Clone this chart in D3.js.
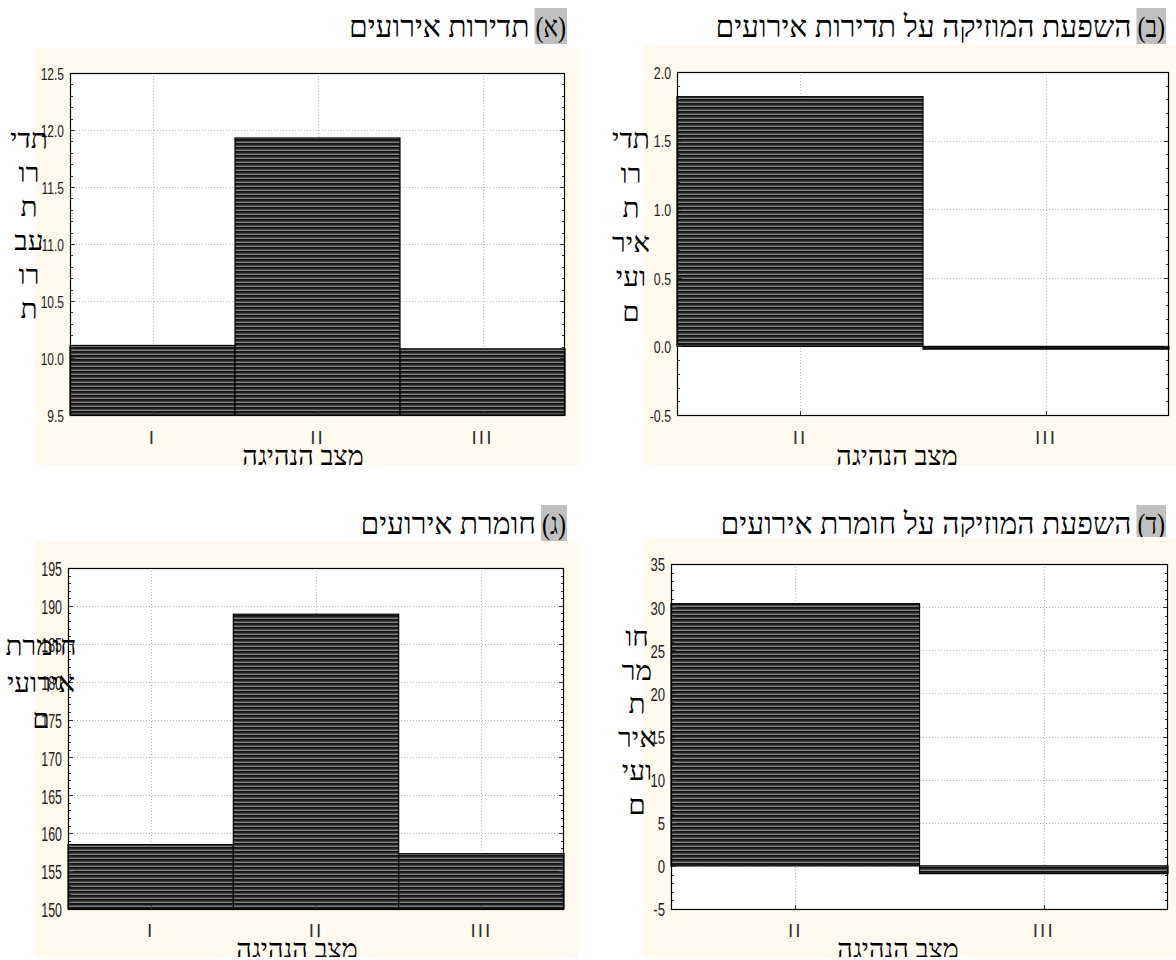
<!DOCTYPE html>
<html><head><meta charset="utf-8">
<script src="https://cdn.jsdelivr.net/npm/d3@7"></script>
<style>body{margin:0;background:#fff}</style>
</head><body><svg id="c" width="1176" height="960" xmlns="http://www.w3.org/2000/svg"></svg>
<script>
// ---- data ----
const catsA = ["I", "II", "III"];
const valsA = [10.11, 11.93, 10.08];
const catsB = ["II", "III"];
const valsB = [1.82, -0.02];
const catsC = ["I", "II", "III"];
const valsC = [158.5, 188.9, 157.3];
const catsD = ["II", "III"];
const valsD = [30.4, -0.9];
const domainA = [9.5, 12.5], domainB = [-0.5, 2.0], domainC = [150, 195], domainD = [-5, 35];
const stepA = 0.5, stepB = 0.5, stepC = 5, stepD = 5;
const letters = ["א", "ב", "ג", "ד"];
const titles = ["תדירות אירועים", "השפעת המוזיקה על תדירות אירועים", "חומרת אירועים", "השפעת המוזיקה על חומרת אירועים"];
const yLinesA = ["תדי", "רו", "ת", "עב", "רו", "ת"];
const yLinesB = ["תדי", "רו", "ת", "איר", "ועי", "ם"];
const yLinesC = ["חומרת", "אירועי", "ם"];
const yLinesD = ["חו", "מר", "ת", "איר", "ועי", "ם"];
const xTitle = "מצב הנהיגה";

// ---- layout ----
const svg = d3.select("#c");
const defs = svg.append("defs");
const pat = defs.append("pattern").attr("id", "hatch").attr("patternUnits", "userSpaceOnUse")
  .attr("width", 8).attr("height", 4);
[["#1c1c1c",0],["#4a4a4a",1],["#808080",2],["#141414",3]].forEach(([c,y]) =>
  pat.append("rect").attr("x",0).attr("y",y).attr("width",8).attr("height",1).attr("fill",c));

const panels = [
  {cats: catsA, vals: valsA, dom: domainA, step: stepA, fmt: d3.format(".1f"), base: domainA[0],
   bg: [35, 48, 578, 465], plot: [70, 73, 565, 415], title: 0, titleRight: 567, titleY: 26,
   yl: yLinesA, ylX: 29, ylY: 140, ylStep: 34, xtY: 437, xtitleX: 303, xtitleY: 457, tf: 16, tc: 0.75},
  {cats: catsB, vals: valsB, dom: domainB, step: stepB, fmt: d3.format(".1f"), base: 0,
   bg: [643, 45, 1176, 465], plot: [677, 72, 1169, 415], title: 1, titleRight: 1166, titleY: 26,
   yl: yLinesB, ylX: 631, ylY: 140, ylStep: 34.5, xtY: 437, xtitleX: 897, xtitleY: 457, tf: 16, tc: 0.77},
  {cats: catsC, vals: valsC, dom: domainC, step: stepC, fmt: d3.format("d"), base: domainC[0],
   bg: [35, 541, 578, 957], plot: [68, 568, 564, 909], title: 2, titleRight: 567, titleY: 523,
   yl: yLinesC, ylX: 41, ylY: 647, ylStep: 36.5, xtY: 930, xtitleX: 297, xtitleY: 950, tf: 20, tc: 0.62},
  {cats: catsD, vals: valsD, dom: domainD, step: stepD, fmt: d3.format("d"), base: 0,
   bg: [643, 537, 1176, 957], plot: [671, 564, 1168, 909], title: 3, titleRight: 1166, titleY: 523,
   yl: yLinesD, ylX: 637, ylY: 638, ylStep: 33.5, xtY: 930, xtitleX: 898, xtitleY: 950, tf: 18, tc: 0.73}
];

const serif = "'Liberation Serif','Times New Roman',serif";
const narrow = "'Liberation Sans Narrow','Liberation Sans',Arial,sans-serif";
const hy = s => s.replace("\u2212", "-");

panels.forEach((p, i) => {
  const [bx0, by0, bx1, by1] = p.bg;
  const [x0, y0, x1, y1] = p.plot;
  defs.append("clipPath").attr("id", "clip" + i).append("rect")
    .attr("x", bx0).attr("y", by0).attr("width", bx1 - bx0).attr("height", by1 - by0);

  // title: grey box with "(letter)" drawn as three pieces, then RTL title text
  const tg = svg.append("g");
  const box = tg.append("rect").attr("fill", "#c0c0c0");
  const pieces = [")", letters[p.title], "("];  // right to left
  let cur = p.titleRight - 1;
  pieces.forEach(s => {
    const t = tg.append("text").attr("y", p.titleY + 11).attr("font-family", serif)
      .attr("font-size", 30).attr("text-anchor", "start").text(s);
    const w = t.node().getComputedTextLength() * 0.8;
    t.attr("textLength", w).attr("lengthAdjust", "spacingAndGlyphs");
    cur -= w;
    t.attr("x", cur);
  });
  const boxL = cur - 1;
  box.attr("x", boxL).attr("y", p.titleY - 18).attr("width", p.titleRight - boxL).attr("height", 36);
  tg.append("text").attr("x", boxL - 5).attr("y", p.titleY + 11)
    .attr("text-anchor", "start").attr("direction", "rtl").style("direction", "rtl")
    .attr("font-family", serif).attr("font-size", 30).text(titles[p.title]);

  const g = svg.append("g").attr("clip-path", `url(#clip${i})`);
  g.append("rect").attr("x", bx0).attr("y", by0).attr("width", bx1 - bx0).attr("height", by1 - by0)
    .attr("fill", "#fffaee");

  const x = d3.scaleBand().domain(p.cats).range([x0, x1]).paddingInner(0).paddingOuter(0);
  const y = d3.scaleLinear().domain(p.dom).range([y1, y0]);
  g.append("rect").attr("x", x0).attr("y", y0).attr("width", x1 - x0).attr("height", y1 - y0).attr("fill", "#fff");

  const nT = Math.round((p.dom[1] - p.dom[0]) / p.step);
  const ticks = d3.range(nT + 1).map(k => p.dom[0] + k * p.step);
  const minorStep = p.step / 5;
  const minors = d3.range(nT * 5 + 1).map(k => p.dom[0] + k * minorStep);
  const isMajor = d => ticks.some(t => Math.abs(t - d) < 1e-9);
  const cx = d => Math.round(x(d) + x.bandwidth() / 2) + 0.5;

  // grid
  g.selectAll(".hg").data(ticks.slice(1, -1)).join("line")
    .attr("x1", x0).attr("x2", x1).attr("y1", d => Math.round(y(d)) + 0.5).attr("y2", d => Math.round(y(d)) + 0.5)
    .attr("stroke", "#bdbdbd").attr("stroke-dasharray", "1,2");
  g.selectAll(".vg").data(p.cats).join("line")
    .attr("x1", cx).attr("x2", cx).attr("y1", y0).attr("y2", y1)
    .attr("stroke", "#bdbdbd").attr("stroke-dasharray", "1,2");

  // bars
  g.selectAll(".bar").data(p.vals).join("rect")
    .attr("x", (d, k) => x(p.cats[k]))
    .attr("y", d => Math.min(y(d), y(p.base)))
    .attr("width", x.bandwidth())
    .attr("height", d => Math.abs(y(d) - y(p.base)))
    .attr("fill", "url(#hatch)").attr("stroke", "#000").attr("stroke-width", 1.2);

  // minor/major ticks
  g.selectAll(".mt").data(minors).join("line")
    .attr("x1", x0).attr("x2", d => x0 + (isMajor(d) ? 5 : 3))
    .attr("y1", d => Math.round(y(d)) + 0.5).attr("y2", d => Math.round(y(d)) + 0.5).attr("stroke", "#333");
  g.selectAll(".mtr").data(minors).join("line")
    .attr("x1", x1).attr("x2", d => x1 - (isMajor(d) ? 5 : 3))
    .attr("y1", d => Math.round(y(d)) + 0.5).attr("y2", d => Math.round(y(d)) + 0.5).attr("stroke", "#333");
  g.selectAll(".bt").data(p.cats).join("line")
    .attr("x1", cx).attr("x2", cx).attr("y1", y1).attr("y2", y1 - 4).attr("stroke", "#333");

  // frame
  g.append("rect").attr("x", x0 + 0.5).attr("y", y0 + 0.5).attr("width", x1 - x0 - 1).attr("height", y1 - y0)
    .attr("fill", "none").attr("stroke", "#000").attr("stroke-width", 1.2);

  // y tick labels
  g.selectAll(".yl").data(ticks).join("text")
    .attr("x", x0 - 6).attr("y", d => y(d) + 1).attr("dy", "0.36em")
    .attr("text-anchor", "end").attr("font-family", narrow).attr("font-size", p.tf).attr("fill", "#222")
    .text(d => hy(p.fmt(d)))
    .each(function() {
      const L = this.getComputedTextLength();
      d3.select(this).attr("textLength", L * p.tc).attr("lengthAdjust", "spacingAndGlyphs");
    });

  // x tick labels
  g.selectAll(".xl").data(p.cats).join("text")
    .attr("x", d => x(d) + x.bandwidth() / 2).attr("y", p.xtY).attr("dy", "0.36em")
    .attr("text-anchor", "middle").attr("font-family", narrow).attr("font-size", 19)
    .attr("letter-spacing", 2).attr("fill", "#333").text(d => d);

  // x title
  g.append("text").attr("x", p.xtitleX).attr("y", p.xtitleY).attr("dy", "0.3em")
    .attr("text-anchor", "middle").attr("direction", "rtl").style("direction", "rtl")
    .attr("font-family", serif).attr("font-size", 27)
    .text(xTitle);

  // y title (stacked lines)
  svg.append("g").selectAll("text").data(p.yl).join("text")
    .attr("x", p.ylX).attr("y", (d, k) => p.ylY + k * p.ylStep + 8)
    .attr("text-anchor", "middle").attr("direction", "rtl").style("direction", "rtl")
    .attr("font-family", serif).attr("font-size", 28)
    .text(d => d);
});
</script>
</body></html>
